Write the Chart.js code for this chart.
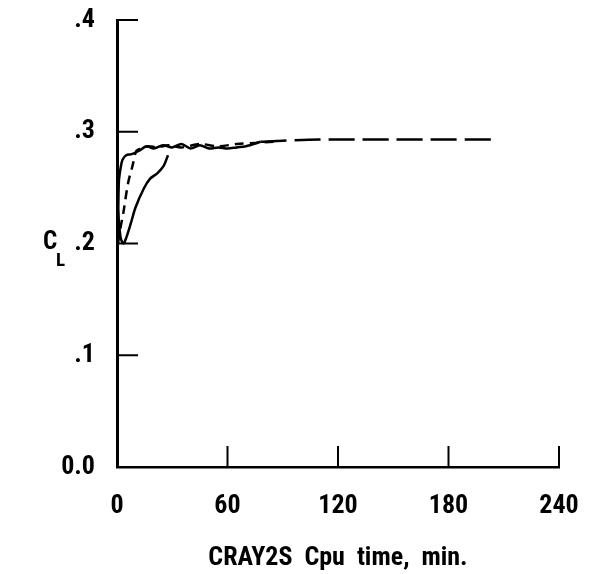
<!DOCTYPE html>
<html>
<head>
<meta charset="utf-8">
<script src="https://cdn.jsdelivr.net/npm/chart.js@4.4.0/dist/chart.umd.min.js"></script>
<style>
  html, body { margin: 0; padding: 0; background: #fff; }
</style>
</head>
<body>
<canvas id="cl_chart" width="590" height="574"></canvas>
<script>
// fast run (solid)
var fastX = [0.5, 1, 2, 3, 5, 8, 12, 16, 20, 25, 30, 35, 40, 45, 50, 55, 60, 65, 70, 78];
var fastY = [0.20, 0.255, 0.268, 0.275, 0.279, 0.280, 0.283, 0.287, 0.285, 0.288, 0.286, 0.289, 0.285, 0.288, 0.285, 0.286, 0.285, 0.286, 0.287, 0.291];
// fast run tail (long dashes)
var tailX = [78, 90, 110, 130, 150, 170, 190, 205];
var tailY = [0.291, 0.292, 0.293, 0.293, 0.293, 0.293, 0.293, 0.293];
// medium run (dashed)
var medX = [0.5, 1, 2, 3.5, 6, 8.5, 10.5, 13, 17, 22, 28, 35, 45, 55, 65, 75, 85];
var medY = [0.20, 0.205, 0.215, 0.228, 0.254, 0.270, 0.283, 0.285, 0.287, 0.286, 0.288, 0.286, 0.289, 0.287, 0.289, 0.290, 0.291];
// slow run (solid)
var slowX = [0.5, 2, 3.5, 5, 7.5, 10, 14.5, 18, 22, 25.5, 27.7];
var slowY = [0.23, 0.205, 0.200, 0.205, 0.218, 0.232, 0.249, 0.258, 0.263, 0.270, 0.279];

var xTickVals = [0, 60, 120, 180, 240];
var yTickVals = [0, 0.1, 0.2, 0.3, 0.4];
var yTickText = ["0.0", ".1", ".2", ".3", ".4"];

var FONT = "'Roboto Condensed', 'DejaVu Sans Condensed', sans-serif";

function pts(xs, ys) {
    return xs.map(function(v, i) { return {x: v, y: ys[i]}; });
}

/////////////////////////////////////////////////////////

var innerTicks = {
    id: 'innerTicks',
    afterDatasetsDraw: function(chart) {
        var ctx = chart.ctx;
        var xs = chart.scales.x, ys = chart.scales.y;
        ctx.save();
        ctx.strokeStyle = '#000';
        ctx.lineWidth = 2;
        yTickVals.forEach(function(v) {
            if (v === 0) return;
            var py = ys.getPixelForValue(v);
            ctx.beginPath();
            ctx.moveTo(xs.left, py);
            ctx.lineTo(xs.left + 21, py);
            ctx.stroke();
        });
        xTickVals.forEach(function(v) {
            if (v === 0) return;
            var px = xs.getPixelForValue(v);
            ctx.beginPath();
            ctx.moveTo(px, ys.bottom);
            ctx.lineTo(px, ys.bottom - 21);
            ctx.stroke();
        });
        // C_L label
        ctx.fillStyle = '#000';
        ctx.textAlign = 'left';
        ctx.textBaseline = 'alphabetic';
        ctx.font = 'bold 25px ' + FONT;
        ctx.fillText('C', 43, 249);
        ctx.font = 'bold 19px ' + FONT;
        ctx.fillText('L', 56, 266);
        ctx.restore();
    }
};

var lineBase = {
    fill: false,
    tension: 0.3,
    borderColor: '#000',
    borderWidth: 2.5,
    pointRadius: 0
};

var chartData = {
    datasets: [
        Object.assign({label: 'fast', data: pts(fastX, fastY)}, lineBase),
        Object.assign({label: 'tail', data: pts(tailX, tailY), borderDash: [26, 8]}, lineBase),
        Object.assign({label: 'medium', data: pts(medX, medY), borderDash: [9, 6]}, lineBase),
        Object.assign({label: 'slow', data: pts(slowX, slowY)}, lineBase)
    ]
};

var chartOptions = {
    responsive: false,
    animation: false,
    layout: { padding: { left: 0, right: 31, top: 20, bottom: 0 } },
    plugins: { legend: { display: false }, tooltip: { enabled: false } },
    scales: {
        x: {
            type: 'linear',
            min: 0,
            max: 240,
            afterBuildTicks: function(scale) {
                scale.ticks = xTickVals.map(function(v) { return {value: v}; });
            },
            grid: { display: false, drawTicks: false },
            border: { display: true, color: '#000', width: 2.5 },
            ticks: {
                color: '#000',
                padding: 24,
                font: { family: FONT, size: 26, weight: 'bold' },
                maxRotation: 0
            },
            title: {
                display: true,
                text: 'CRAY2S  Cpu  time,  min.',
                color: '#000',
                padding: { top: 16, bottom: 0 },
                font: { family: FONT, size: 26, weight: 'bold' }
            },
            afterFit: function(scale) {
                scale.height = 574 - 467;
                scale.paddingLeft = 0;
                scale.paddingRight = 0;
            }
        },
        y: {
            type: 'linear',
            min: 0,
            max: 0.4,
            afterBuildTicks: function(scale) {
                scale.ticks = yTickVals.map(function(v) { return {value: v}; });
            },
            grid: { display: false, drawTicks: false },
            border: { display: true, color: '#000', width: 3 },
            ticks: {
                color: '#000',
                padding: 22,
                font: { family: FONT, size: 26, weight: 'bold' },
                callback: function(v) {
                    var i = yTickVals.indexOf(v);
                    return i >= 0 ? yTickText[i] : '';
                }
            },
            afterFit: function(scale) {
                scale.width = 117;
                scale.paddingTop = 0;
                scale.paddingBottom = 0;
            }
        }
    }
};

var lineChart = new Chart(document.getElementById('cl_chart'), {
    type: 'line',
    data: chartData,
    options: chartOptions,
    plugins: [innerTicks]
});
</script>
</body>
</html>
